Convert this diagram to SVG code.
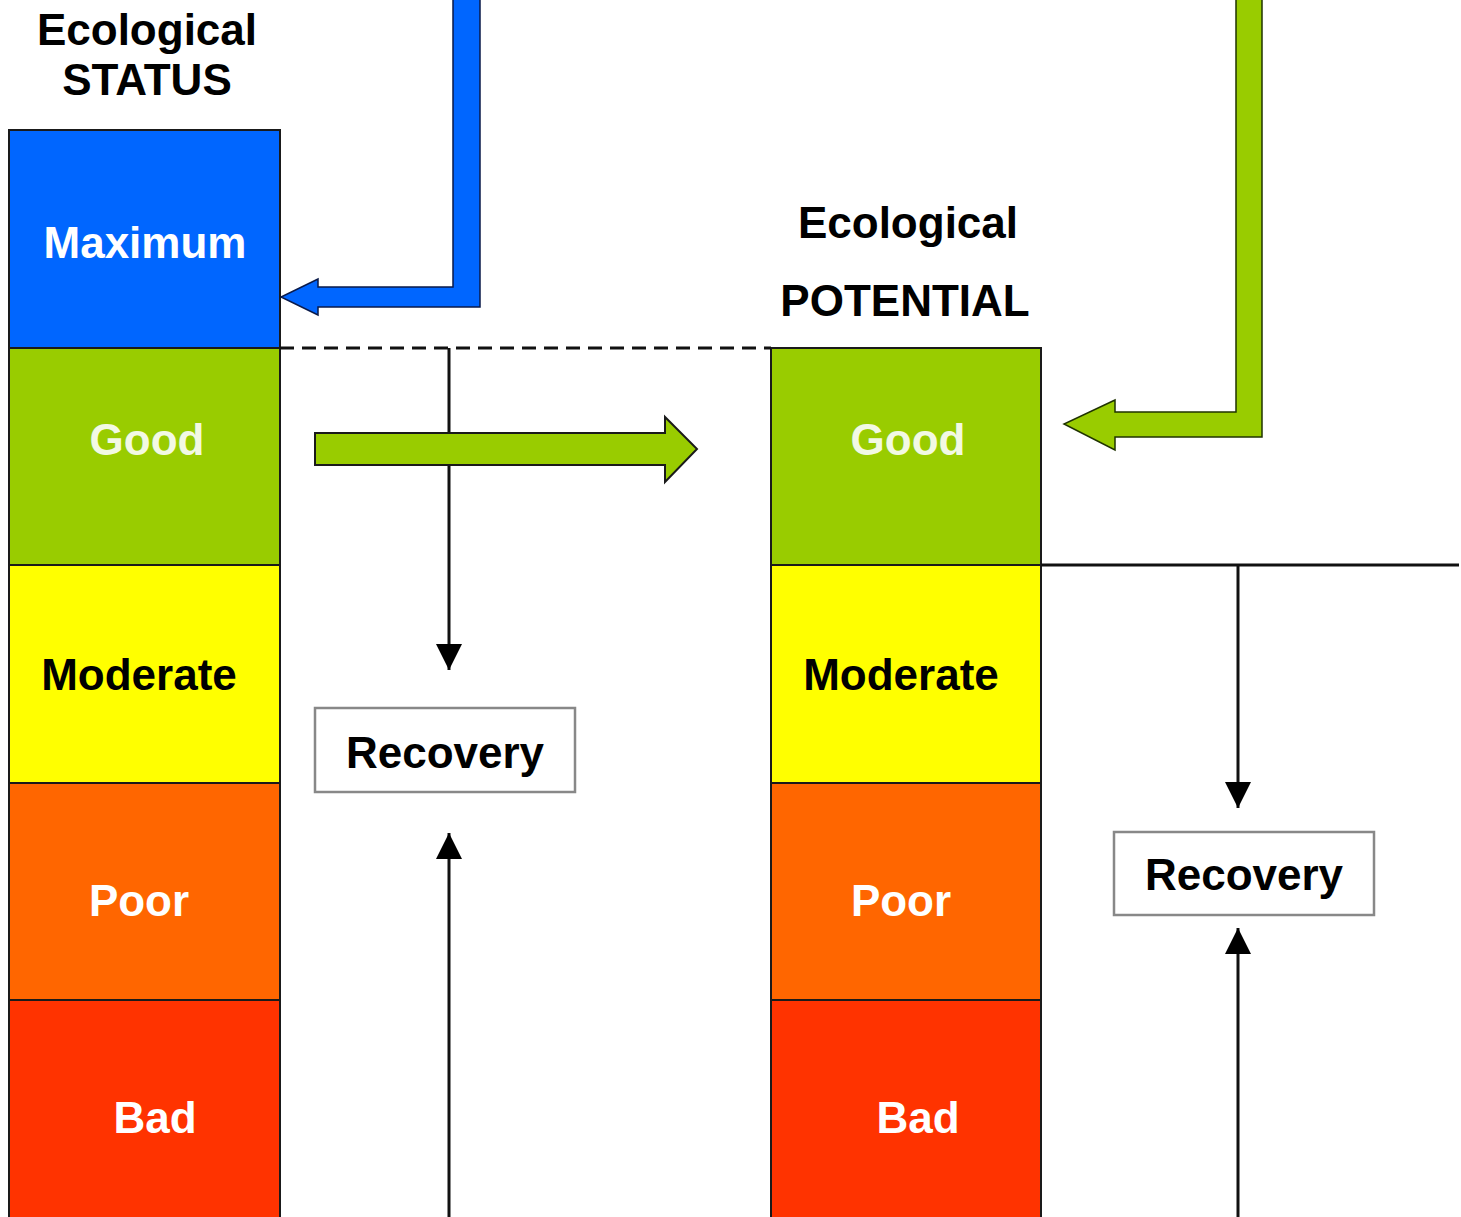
<svg xmlns="http://www.w3.org/2000/svg" width="1461" height="1217" viewBox="0 0 1461 1217">
<style>
.t{font-family:"Liberation Sans",Arial,sans-serif;font-weight:bold;font-size:44px;text-anchor:middle}
.w{fill:#FFFFFF}
.k{fill:#000000}
.blk{stroke:#1a1a1a;stroke-width:2}
.ln{stroke:#111;stroke-width:3;fill:none}
.box{fill:#FFFFFF;stroke:#888;stroke-width:2.5}
</style>
<defs>
<marker id="ah" markerWidth="26" markerHeight="26" viewBox="0 0 26 26" refX="26" refY="13" orient="auto" markerUnits="userSpaceOnUse">
<path d="M0,0 L26,13 L0,26 Z" fill="#000"/>
</marker>
</defs>
<rect width="1461" height="1217" fill="#FFFFFF"/>

<g id="status-title">
<text class="t k" x="147" y="45">Ecological</text>
<text class="t k" x="147" y="95">STATUS</text>
</g>
<g id="status-maximum"><rect class="blk" x="9" y="130" width="271" height="218" fill="#0066FF"/><text class="t w" x="145" y="258">Maximum</text></g>
<g id="status-good"><rect class="blk" x="9" y="348" width="271" height="217" fill="#99CC00"/><text class="t" fill="#F2F9E4" x="147" y="455">Good</text></g>
<g id="status-moderate"><rect class="blk" x="9" y="565" width="271" height="218" fill="#FFFF00"/><text class="t k" x="139" y="690">Moderate</text></g>
<g id="status-poor"><rect class="blk" x="9" y="783" width="271" height="217" fill="#FF6600"/><text class="t w" x="139" y="916">Poor</text></g>
<g id="status-bad"><rect class="blk" x="9" y="1000" width="271" height="220" fill="#FF3300"/><text class="t w" x="155" y="1133">Bad</text></g>

<g id="potential-title">
<text class="t k" x="908" y="238">Ecological</text>
<text class="t k" x="905" y="316">POTENTIAL</text>
</g>
<g id="potential-good"><rect class="blk" x="771" y="348" width="270" height="217" fill="#99CC00"/><text class="t" fill="#F2F9E4" x="908" y="455">Good</text></g>
<g id="potential-moderate"><rect class="blk" x="771" y="565" width="270" height="218" fill="#FFFF00"/><text class="t k" x="901" y="690">Moderate</text></g>
<g id="potential-poor"><rect class="blk" x="771" y="783" width="270" height="217" fill="#FF6600"/><text class="t w" x="901" y="916">Poor</text></g>
<g id="potential-bad"><rect class="blk" x="771" y="1000" width="270" height="220" fill="#FF3300"/><text class="t w" x="918" y="1133">Bad</text></g>

<g id="recovery-left"><rect class="box" x="315" y="708" width="260" height="84"/><text class="t k" x="445" y="768">Recovery</text></g>
<g id="recovery-right"><rect class="box" x="1114" y="832" width="260" height="83"/><text class="t k" x="1244" y="890">Recovery</text></g>

<g id="connectors">
<line x1="280" y1="348" x2="771" y2="348" stroke="#111" stroke-width="3" stroke-dasharray="14,8"/>
<line class="ln" x1="449" y1="348" x2="449" y2="670" marker-end="url(#ah)"/>
<line class="ln" x1="449" y1="1217" x2="449" y2="833" marker-end="url(#ah)"/>
<line class="ln" x1="1041" y1="565" x2="1459" y2="565" stroke-width="2.5"/>
<line class="ln" x1="1238" y1="565" x2="1238" y2="808" marker-end="url(#ah)"/>
<line class="ln" x1="1238" y1="1217" x2="1238" y2="928" marker-end="url(#ah)"/>
<polygon points="453,-2 480,-2 480,307 318,307 318,315 281,297 318,279 318,287 453,287" fill="#0066FF" stroke="#0a1a4a" stroke-width="1.5"/>
<polygon points="1236,-2 1262,-2 1262,437 1115,437 1115,450 1064,424 1115,400 1115,412 1236,412" fill="#99CC00" stroke="#1f3300" stroke-width="1.5"/>
<polygon points="315,433 665,433 665,417 697,449 665,482 665,465 315,465" fill="#99CC00" stroke="#1a1a1a" stroke-width="2"/>
</g>
</svg>
